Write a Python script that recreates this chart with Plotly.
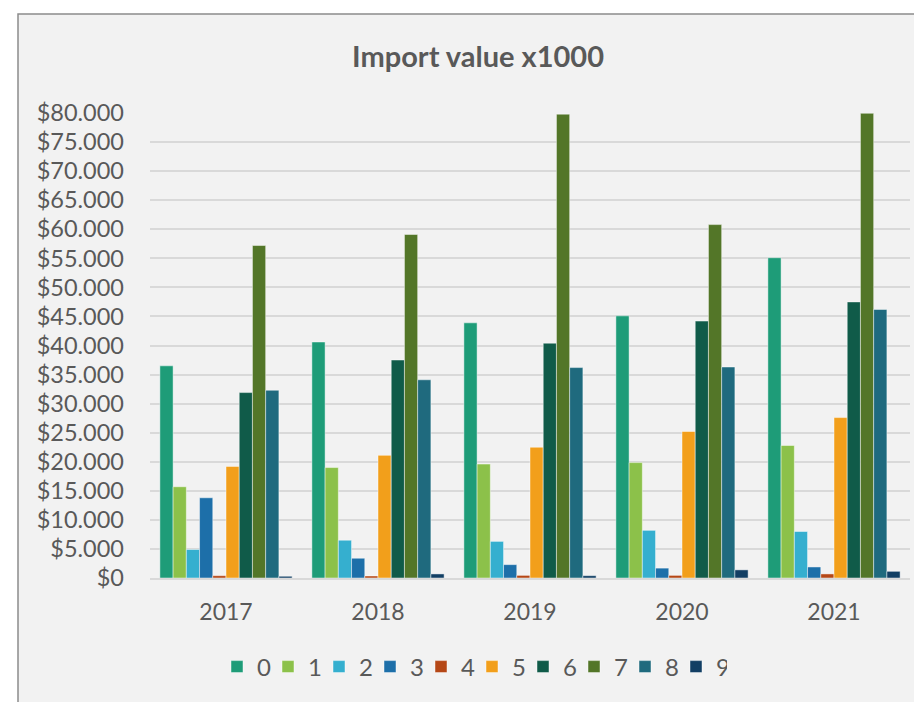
import plotly.graph_objects as go

years = ["2017", "2018", "2019", "2020", "2021"]

s0 = [36500, 40600, 43900, 45100, 55100]
s1 = [15700, 19000, 19600, 19850, 22800]
s2 = [4900, 6500, 6300, 8200, 8000]
s3 = [13800, 3400, 2300, 1700, 1900]
s4 = [400, 350, 450, 450, 700]
s5 = [19200, 21100, 22500, 25200, 27600]
s6 = [31900, 37500, 40400, 44200, 47500]
s7 = [57200, 59100, 79800, 60800, 79950]
s8 = [32300, 34100, 36200, 36300, 46200]
s9 = [300, 700, 400, 1400, 1150]

series = {"0": s0, "1": s1, "2": s2, "3": s3, "4": s4,
          "5": s5, "6": s6, "7": s7, "8": s8, "9": s9}

colors = ["#1e9c78", "#8cc14a", "#35afcf", "#1d6fa9", "#b54716",
          "#f29f1b", "#105b49", "#537628", "#1f6a7e", "#123f64"]

FONT = "Lato, 'Open Sans', sans-serif"
TXT = "#595959"

# page body has an 8px margin, so everything is placed 8px up/left
L, T = 142, 105
PW, PH = 760, 465

fig = go.Figure()
for (name, vals), c in zip(series.items(), colors):
    fig.add_trace(go.Bar(
        x=years, y=vals, name=name,
        marker=dict(color=c, line=dict(color="rgba(255,255,255,0.45)", width=1)),
    ))

# chart area background with border (runs past right/bottom edge)
fig.add_shape(type="rect", xref="paper", yref="paper",
              x0=(10 - L) / PW, x1=1.2, y0=-0.4, y1=(T + PH - 6) / PH,
              fillcolor="#f2f2f2", line=dict(color="#8c8c8c", width=1.5),
              layer="below")

fig.update_layout(
    width=922, height=702,
    paper_bgcolor="white",
    plot_bgcolor="#f2f2f2",
    barmode="group",
    bargap=0.13,
    bargroupgap=0,
    separators=",.",
    margin=dict(l=L, r=922 - L - PW, t=T, b=702 - T - PH),
    font=dict(family=FONT, color=TXT),
    title=dict(text="<b>Import value x1000</b>", x=470 / 922, xanchor="center",
               xref="container", y=1 - 49 / 702, yanchor="middle",
               font=dict(size=29, color=TXT, family=FONT)),
    showlegend=True,
    legend=dict(orientation="h", x=(464 - L) / PW, xanchor="center",
                y=(T + PH - 659) / PH, yanchor="middle",
                font=dict(size=24, color=TXT), itemwidth=30,
                entrywidth=6, entrywidthmode="pixels",
                bgcolor="rgba(0,0,0,0)"),
    xaxis=dict(showgrid=False, showline=True, linecolor="#d9d9d9", linewidth=1.5,
               tickfont=dict(size=23, color=TXT), ticks="", ticklabelstandoff=13),
    yaxis=dict(range=[0, 80000], dtick=5000, tickprefix="$", tickformat=",d",
               showgrid=True, gridcolor="#d9d9d9", gridwidth=1.5,
               zeroline=False, showline=False,
               tickfont=dict(size=23.5, color=TXT), ticklabelstandoff=25),
)

fig.write_html("out.html")
